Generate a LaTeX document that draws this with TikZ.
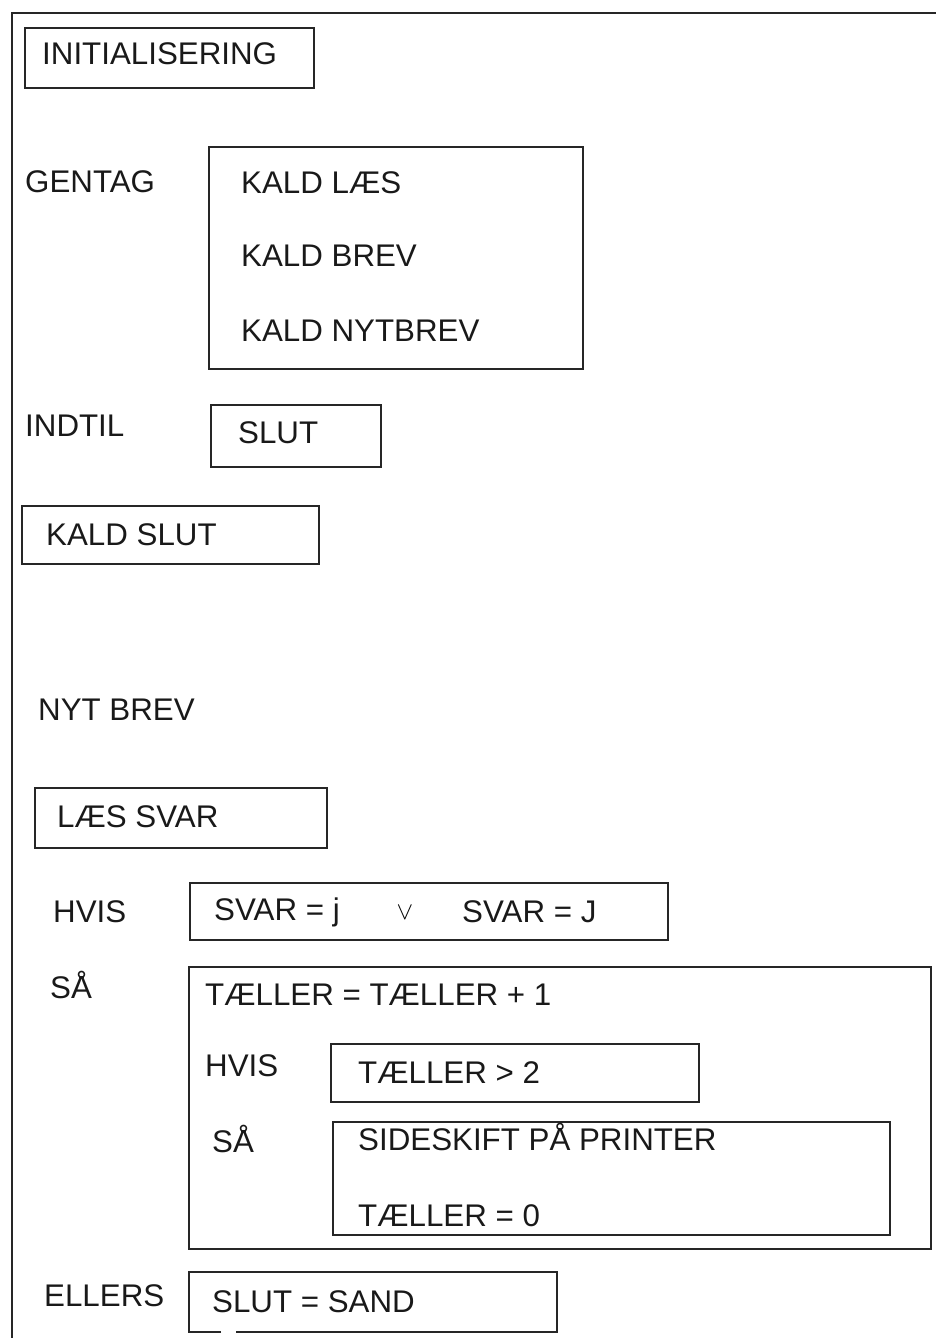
\documentclass[tikz,border=0pt]{standalone}
\usepackage{fontspec}
\setmainfont{Liberation Sans}
\begin{document}
\begin{tikzpicture}[x=1pt,y=-1pt,
  frame/.style={draw=black!85,line width=2.8pt},
  box/.style={draw=black!85,line width=2.8pt},
  lbl/.style={anchor=base west,inner sep=0pt,font=\fontsize{31.3}{36}\selectfont,text=black!90}]
\useasboundingbox (0,0) rectangle (936,1338);
% outer frame (top and left only)
\coordinate (ftr) at (936,13);
\coordinate (ftl) at (12,13);
\coordinate (fbl) at (12,1338);
\draw[frame] (ftr) -- (ftl) -- (fbl);
% boxes
\draw[box] (25,28) rectangle (314,88);
\draw[box] (209,147) rectangle (583,369);
\draw[box] (211,405) rectangle (381,467);
\draw[box] (22,506) rectangle (319,564);
\draw[box] (35,788) rectangle (327,848);
\draw[box] (190,883) rectangle (668,940);
\draw[box] (189,967) rectangle (931,1249);
\draw[box] (331,1044) rectangle (699,1102);
\draw[box] (333,1122) rectangle (890,1235);
\draw[box] (221,1332) -- (189,1332) -- (189,1272) -- (557,1272) -- (557,1332) -- (236,1332);
% texts
\node[lbl] (init) at (42,65) {INITIALISERING};
\node[lbl] (gentag) at (25,192) {GENTAG};
\node[lbl] (k1) at (241,193) {KALD LÆS};
\node[lbl] (k2) at (241,266) {KALD BREV};
\node[lbl] (k3) at (241,341) {KALD NYTBREV};
\node[lbl] (indtil) at (25,436) {INDTIL};
\node[lbl] (slut) at (238,443) {SLUT};
\node[lbl] (kslut) at (46,545) {KALD SLUT};
\node[lbl] (nyt) at (38,720) {NYT BREV};
\node[lbl] (laes) at (57,827) {LÆS SVAR};
\node[lbl] (hvis1) at (53,922) {HVIS};
\node[lbl] (s1) at (214,920) {SVAR = j};
\node[anchor=base,inner sep=0pt,font=\fontsize{30}{34}\selectfont] (or) at (405,919) {$\vee$};
\node[lbl] (s2) at (462,922) {SVAR = J};
\node[lbl] (saa1) at (50,998) {SÅ};
\node[lbl] (t1) at (205,1005) {TÆLLER = TÆLLER + 1};
\node[lbl] (hvis2) at (205,1076) {HVIS};
\node[lbl] (t2) at (358,1083) {TÆLLER > 2};
\node[lbl] (saa2) at (212,1152) {SÅ};
\node[lbl] (side) at (358,1150) {SIDESKIFT PÅ PRINTER};
\node[lbl] (t0) at (358,1226) {TÆLLER = 0};
\node[lbl] (ellers) at (44,1306) {ELLERS};
\node[lbl] (sand) at (212,1312) {SLUT = SAND};
\end{tikzpicture}
\end{document}
